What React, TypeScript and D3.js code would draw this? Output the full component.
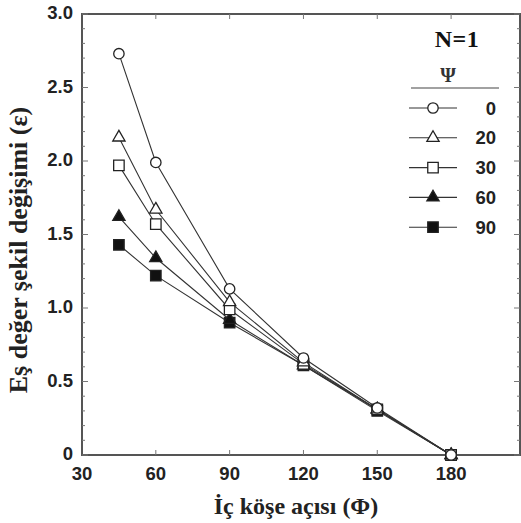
import { useEffect, useRef } from "react";
import * as d3 from "d3";

// inner corner angle (deg)
const angles = [45, 60, 90, 120, 150, 180];
const psiLabels = ["0", "20", "30", "60", "90"];
const psi0 = [2.73, 1.99, 1.13, 0.66, 0.32, 0.0];
const psi20 = [2.16, 1.67, 1.04, 0.63, 0.31, 0.0];
const psi30 = [1.97, 1.57, 0.99, 0.62, 0.31, 0.0];
const psi60 = [1.62, 1.34, 0.92, 0.61, 0.31, 0.0];
const psi90 = [1.43, 1.22, 0.9, 0.61, 0.3, 0.0];
const xTicks = [30, 60, 90, 120, 150, 180];
const yTicks = [0, 0.5, 1.0, 1.5, 2.0, 2.5, 3.0];

const W = 521;
const H = 523;

export default function App() {
    const ref = useRef<SVGSVGElement>(null);

    useEffect(() => {
        const svg = d3.select(ref.current);
        svg.selectAll("*").remove();

        const left = 82, right = 520, top = 14, bottom = 455;
        const x = d3.scaleLinear().domain([30, 208]).range([left, right]);
        const y = d3.scaleLinear().domain([0, 3]).range([bottom, top]);
        const axisColor = "#555";
        const sans = "Liberation Sans, Arial, sans-serif";
        const serif = "Liberation Serif, Times New Roman, serif";

        // frame
        svg.append("rect")
            .attr("x", left).attr("y", top)
            .attr("width", right - left).attr("height", bottom - top)
            .attr("fill", "none").attr("stroke", axisColor).attr("stroke-width", 2);

        const minorY = d3.range(0, 3.001, 0.1).filter((v) => Math.abs(v * 2 - Math.round(v * 2)) > 0.01);
        const g = svg.append("g").attr("stroke", "#777").attr("stroke-width", 1);
        // left / right ticks
        for (const v of yTicks) {
            g.append("line").attr("x1", left).attr("x2", left + 6).attr("y1", y(v)).attr("y2", y(v));
            g.append("line").attr("x1", right).attr("x2", right - 6).attr("y1", y(v)).attr("y2", y(v));
        }
        for (const v of minorY) {
            g.append("line").attr("x1", left).attr("x2", left + 3).attr("y1", y(v)).attr("y2", y(v));
            g.append("line").attr("x1", right).attr("x2", right - 3).attr("y1", y(v)).attr("y2", y(v));
        }
        // top / bottom ticks
        for (const v of xTicks.slice(1)) {
            g.append("line").attr("x1", x(v)).attr("x2", x(v)).attr("y1", bottom).attr("y2", bottom - 5);
            g.append("line").attr("x1", x(v)).attr("x2", x(v)).attr("y1", top).attr("y2", top + 5);
        }

        // tick labels
        svg.append("g").selectAll("text").data(yTicks).enter().append("text")
            .attr("x", left - 9).attr("y", (d) => y(d) + 5)
            .attr("text-anchor", "end")
            .attr("font-family", sans).attr("font-weight", "bold").attr("font-size", 18.5)
            .attr("fill", "#222")
            .text((d) => (d === 0 ? "0" : d.toFixed(1)));
        svg.append("g").selectAll("text").data(xTicks).enter().append("text")
            .attr("x", (d) => x(d)).attr("y", bottom + 25)
            .attr("text-anchor", "middle")
            .attr("font-family", sans).attr("font-weight", "bold").attr("font-size", 18.5)
            .attr("fill", "#222")
            .text((d) => String(d));

        // axis titles
        svg.append("text")
            .attr("x", 296).attr("y", 514)
            .attr("text-anchor", "middle")
            .attr("font-family", serif).attr("font-weight", "bold").attr("font-size", 24)
            .attr("fill", "#222")
            .text("İç köşe açısı (Φ)");
        svg.append("text")
            .attr("transform", "translate(27,250) rotate(-90)")
            .attr("text-anchor", "middle")
            .attr("font-family", serif).attr("font-weight", "bold").attr("font-size", 26)
            .attr("fill", "#222")
            .text("Eş değer şekil değişimi (ε)");

        const series = [psi0, psi20, psi30, psi60, psi90];
        const shapes = [d3.symbolCircle, d3.symbolTriangle, d3.symbolSquare, d3.symbolTriangle, d3.symbolSquare];
        const sizes = [85, 65, 110, 65, 110];
        const filled = [false, false, false, true, true];

        const line = d3.line<number>().x((d, i) => x(angles[i])).y((d) => y(d));
        series.forEach((s) => {
            svg.append("path").datum(s)
                .attr("fill", "none").attr("stroke", "#333").attr("stroke-width", 1.1)
                .attr("d", line);
        });
        // draw markers, hollow ones last so they sit on top like the original
        [4, 3, 2, 1, 0].forEach((k) => {
            const sym = d3.symbol().type(shapes[k]).size(sizes[k]);
            svg.append("g").selectAll("path").data(series[k]).enter().append("path")
                .attr("transform", (d, i) => `translate(${x(angles[i])},${y(d)})`)
                .attr("d", sym)
                .attr("fill", filled[k] ? "#111" : "#fff")
                .attr("stroke", "#222").attr("stroke-width", 1.3);
        });

        // legend
        svg.append("text").attr("x", 457).attr("y", 47).attr("text-anchor", "middle")
            .attr("font-family", serif).attr("font-weight", "bold").attr("font-size", 24)
            .attr("letter-spacing", 0.5)
            .attr("fill", "#111").text("N=1");
        svg.append("text").attr("x", 448).attr("y", 82).attr("text-anchor", "middle")
            .attr("font-family", serif).attr("font-weight", "bold").attr("font-size", 20)
            .attr("fill", "#333").text("Ψ");
        svg.append("line").attr("x1", 411).attr("x2", 499).attr("y1", 88).attr("y2", 88)
            .attr("stroke", "#444").attr("stroke-width", 1.2);
        psiLabels.forEach((lab, k) => {
            const ly = 108 + k * 29.8;
            svg.append("line").attr("x1", 409).attr("x2", 457).attr("y1", ly).attr("y2", ly)
                .attr("stroke", "#333").attr("stroke-width", 1.1);
            svg.append("path")
                .attr("transform", `translate(433,${ly})`)
                .attr("d", d3.symbol().type(shapes[k]).size(sizes[k]))
                .attr("fill", filled[k] ? "#111" : "#fff")
                .attr("stroke", "#222").attr("stroke-width", 1.3);
            svg.append("text").attr("x", 496).attr("y", ly + 6.5).attr("text-anchor", "end")
                .attr("font-family", sans).attr("font-weight", "bold").attr("font-size", 18.5)
                .attr("fill", "#222").text(lab);
        });
    }, []);

    return (
        <svg
            ref={ref}
            width={W}
            height={H}
            style={{ position: "absolute", left: 0, top: 0, background: "#fff" }}
        ></svg>
    );
}
